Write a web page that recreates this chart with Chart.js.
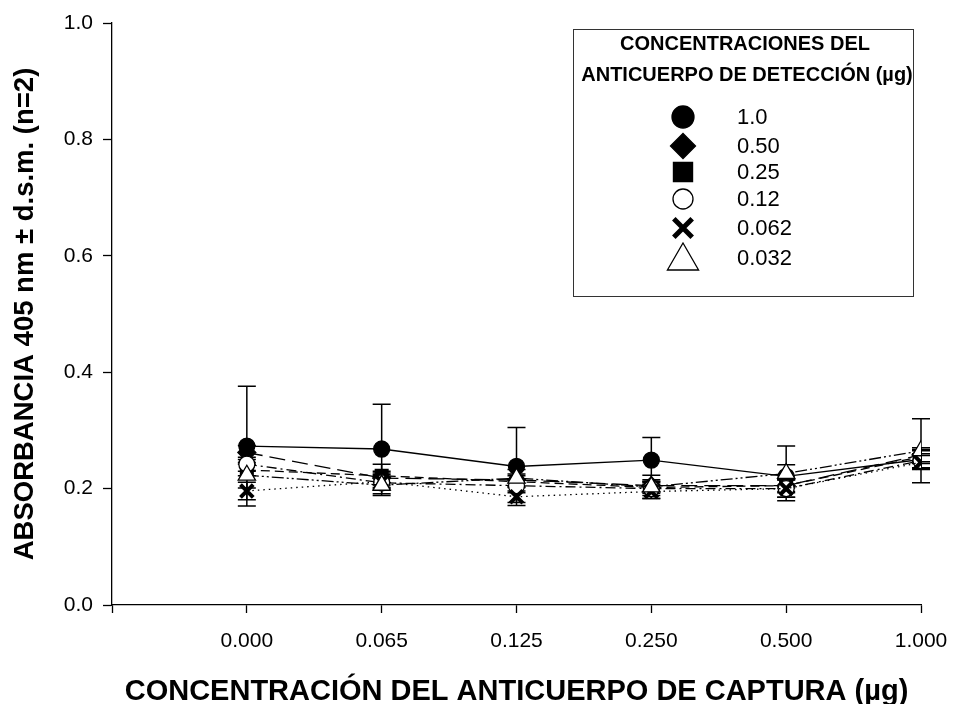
<!DOCTYPE html>
<html lang="es">
<head>
<meta charset="UTF-8">
<title>Absorbancia vs anticuerpo de captura</title>
<script src="https://cdn.jsdelivr.net/npm/chart.js"></script>
<style>
  html, body { margin: 0; padding: 0; background: #fff; }
  #wrap { width: 953px; height: 704px; }
</style>
</head>
<body>
<div id="wrap"><canvas id="grafico" width="953" height="704"></canvas></div>
<script>
// etiquetas del eje x (concentración del anticuerpo de captura, µg)
const captura = ['0.000', '0.065', '0.125', '0.250', '0.500', '1.000'];
const yTicks = [0, 0.2, 0.4, 0.6, 0.8, 1.0];

// concentraciones del anticuerpo de detección
const nombres = ['1.0', '0.50', '0.25', '0.12', '0.062', '0.032'];

// absorbancias medias (405 nm)
const abs10   = [0.273, 0.268, 0.238, 0.249, 0.221, 0.250];
const abs050  = [0.262, 0.218, 0.215, 0.205, 0.205, 0.258];
const abs025  = [0.232, 0.222, 0.212, 0.202, 0.205, 0.255];
const abs012  = [0.242, 0.210, 0.205, 0.200, 0.200, 0.248];
const abs0062 = [0.196, 0.212, 0.186, 0.195, 0.200, 0.245];
const abs0032 = [0.223, 0.206, 0.218, 0.203, 0.226, 0.265];

// desviaciones (d.s.m.)
const ds10   = [0.103, 0.077, 0.067, 0.039, 0.020, 0.015];
const ds050  = [0.012, 0.012, 0.010, 0.010, 0.012, 0.012];
const ds025  = [0.010, 0.020, 0.010, 0.010, 0.010, 0.012];
const ds012  = [0.012, 0.010, 0.012, 0.012, 0.015, 0.012];
const ds0062 = [0.015, 0.015, 0.010, 0.012, 0.015, 0.012];
const ds0032 = [0.022, 0.018, 0.015, 0.020, 0.047, 0.055];

const medias = [abs10, abs050, abs025, abs012, abs0062, abs0032];
const desvs = [ds10, ds050, ds025, ds012, ds0062, ds0032];

const FUENTE = '"Liberation Sans", Arial, sans-serif';

const estilos = [
  { forma: 'circle',   relleno: '#000', dash: [],                  r: 8,  rl: 11 },
  { forma: 'rectRot',  relleno: '#000', dash: [16, 7],             r: 9,  rl: 12.5 },
  { forma: 'rect',     relleno: '#000', dash: [9, 5],              r: 9,  rl: 13.5 },
  { forma: 'circle',   relleno: '#fff', dash: [10, 4, 2, 4],       r: 8,  rl: 10 },
  { forma: 'crossRot', relleno: '#000', dash: [1.5, 4],            r: 9,  rl: 13 },
  { forma: 'triangle', relleno: '#fff', dash: [12, 3, 2, 3, 2, 3], r: 10, rl: 18 }
];

const datasets = medias.map(function (serie, i) {
  const e = estilos[i];
  return {
    label: nombres[i],
    data: serie.map(function (v, j) { return { x: j, y: v }; }),
    errores: desvs[i],
    radioLeyenda: e.rl,
    borderColor: '#000',
    borderWidth: 1.3,
    borderDash: e.dash,
    pointStyle: e.forma,
    pointRadius: e.r,
    pointBorderWidth: e.forma === 'crossRot' ? 4 : 1.3,
    pointBackgroundColor: e.relleno,
    pointBorderColor: '#000',
    tension: 0,
    fill: false,
    order: 6 - i
  };
});

// barras de error
const barrasError = {
  id: 'barrasError',
  beforeDatasetsDraw(chart) {
    const ctx = chart.ctx;
    const xs = chart.scales.x, ys = chart.scales.y;
    ctx.save();
    ctx.strokeStyle = '#000';
    ctx.lineWidth = 1.5;
    chart.data.datasets.forEach(function (ds) {
      ds.data.forEach(function (p, j) {
        const px = xs.getPixelForValue(p.x);
        const top = ys.getPixelForValue(p.y + ds.errores[j]);
        const bot = ys.getPixelForValue(p.y - ds.errores[j]);
        ctx.beginPath();
        ctx.moveTo(px, top); ctx.lineTo(px, bot);
        ctx.moveTo(px - 9, top); ctx.lineTo(px + 9, top);
        ctx.moveTo(px - 9, bot); ctx.lineTo(px + 9, bot);
        ctx.stroke();
      });
    });
    ctx.restore();
  }
};

// leyenda dentro del área de trazado
const leyenda = {
  id: 'leyenda',
  afterDraw(chart) {
    const ctx = chart.ctx;
    const a = chart.chartArea;
    const x0 = a.right - 348, y0 = a.top + 6, w = 340, h = 267;
    ctx.save();
    ctx.fillStyle = '#fff';
    ctx.fillRect(x0, y0, w, h);
    ctx.strokeStyle = '#333';
    ctx.lineWidth = 1;
    ctx.strokeRect(x0 + 0.5, y0 + 0.5, w, h);
    ctx.fillStyle = '#000';
    ctx.textAlign = 'center';
    ctx.textBaseline = 'middle';
    ctx.font = 'bold 20px ' + FUENTE;
    ctx.fillText('CONCENTRACIONES DEL', x0 + w / 2 + 2, y0 + 15);
    ctx.fillText('ANTICUERPO DE DETECCIÓN (µg)', x0 + w / 2 + 4, y0 + 46);
    ctx.textAlign = 'left';
    ctx.font = '22px ' + FUENTE;
    const filas = [88, 117, 143, 170, 199, 229];
    chart.data.datasets.forEach(function (ds, i) {
      const yy = y0 + filas[i];
      const mx = x0 + 110;
      ctx.lineWidth = ds.pointStyle === 'crossRot' ? 5 : 1.3;
      ctx.strokeStyle = '#000';
      ctx.fillStyle = ds.pointBackgroundColor;
      Chart.helpers.drawPoint(ctx, {
        pointStyle: ds.pointStyle,
        radius: ds.radioLeyenda,
        borderWidth: ctx.lineWidth,
        rotation: 0
      }, mx, ds.pointStyle === 'triangle' ? yy + 3 : yy);
      ctx.fillStyle = '#000';
      ctx.fillText(ds.label, x0 + 164, yy + 1);
    });
    ctx.restore();
  }
};

new Chart(document.getElementById('grafico'), {
  type: 'line',
  data: { datasets: datasets },
  plugins: [barrasError, leyenda],
  options: {
    responsive: false,
    animation: false,
    layout: { padding: { top: 23, right: 32, left: 0, bottom: 0 } },
    plugins: { legend: { display: false }, tooltip: { enabled: false } },
    scales: {
      x: {
        type: 'linear',
        min: -1,
        max: 5,
        afterBuildTicks(s) { s.ticks = [-1, 0, 1, 2, 3, 4, 5].map(function (v) { return { value: v }; }); },
        afterFit(s) { s.height = 99; s.paddingRight = 0; s.paddingLeft = 0; },
        ticks: {
          color: '#000',
          padding: 16,
          maxRotation: 0,
          autoSkip: false,
          font: { family: FUENTE, size: 21 },
          callback: function (v) { return v >= 0 ? captura[v] : ''; }
        },
        grid: { drawOnChartArea: false, color: '#000', tickLength: 8, tickWidth: 1.3 },
        border: { color: '#000', width: 1.3 },
        title: {
          display: true,
          text: 'CONCENTRACIÓN DEL ANTICUERPO DE CAPTURA (µg)',
          color: '#000',
          padding: { top: 0, bottom: 0 },
          font: { family: FUENTE, size: 29, weight: 'bold', lineHeight: 0.8 }
        }
      },
      y: {
        min: 0,
        max: 1,
        afterBuildTicks(s) { s.ticks = yTicks.map(function (v) { return { value: v }; }); },
        afterFit(s) { s.width = 112; },
        ticks: {
          color: '#000',
          padding: 10,
          font: { family: FUENTE, size: 21 },
          callback: function (v) { return v.toFixed(1); }
        },
        grid: { drawOnChartArea: false, color: '#000', tickLength: 9, tickWidth: 1.3 },
        border: { color: '#000', width: 1.3 },
        title: {
          display: true,
          text: 'ABSORBANCIA 405 nm ± d.s.m. (n=2)',
          color: '#000',
          padding: { bottom: 0, top: 9 },
          font: { family: FUENTE, size: 27.5, weight: 'bold', lineHeight: 1.2 }
        }
      }
    }
  }
});
</script>
</body>
</html>
